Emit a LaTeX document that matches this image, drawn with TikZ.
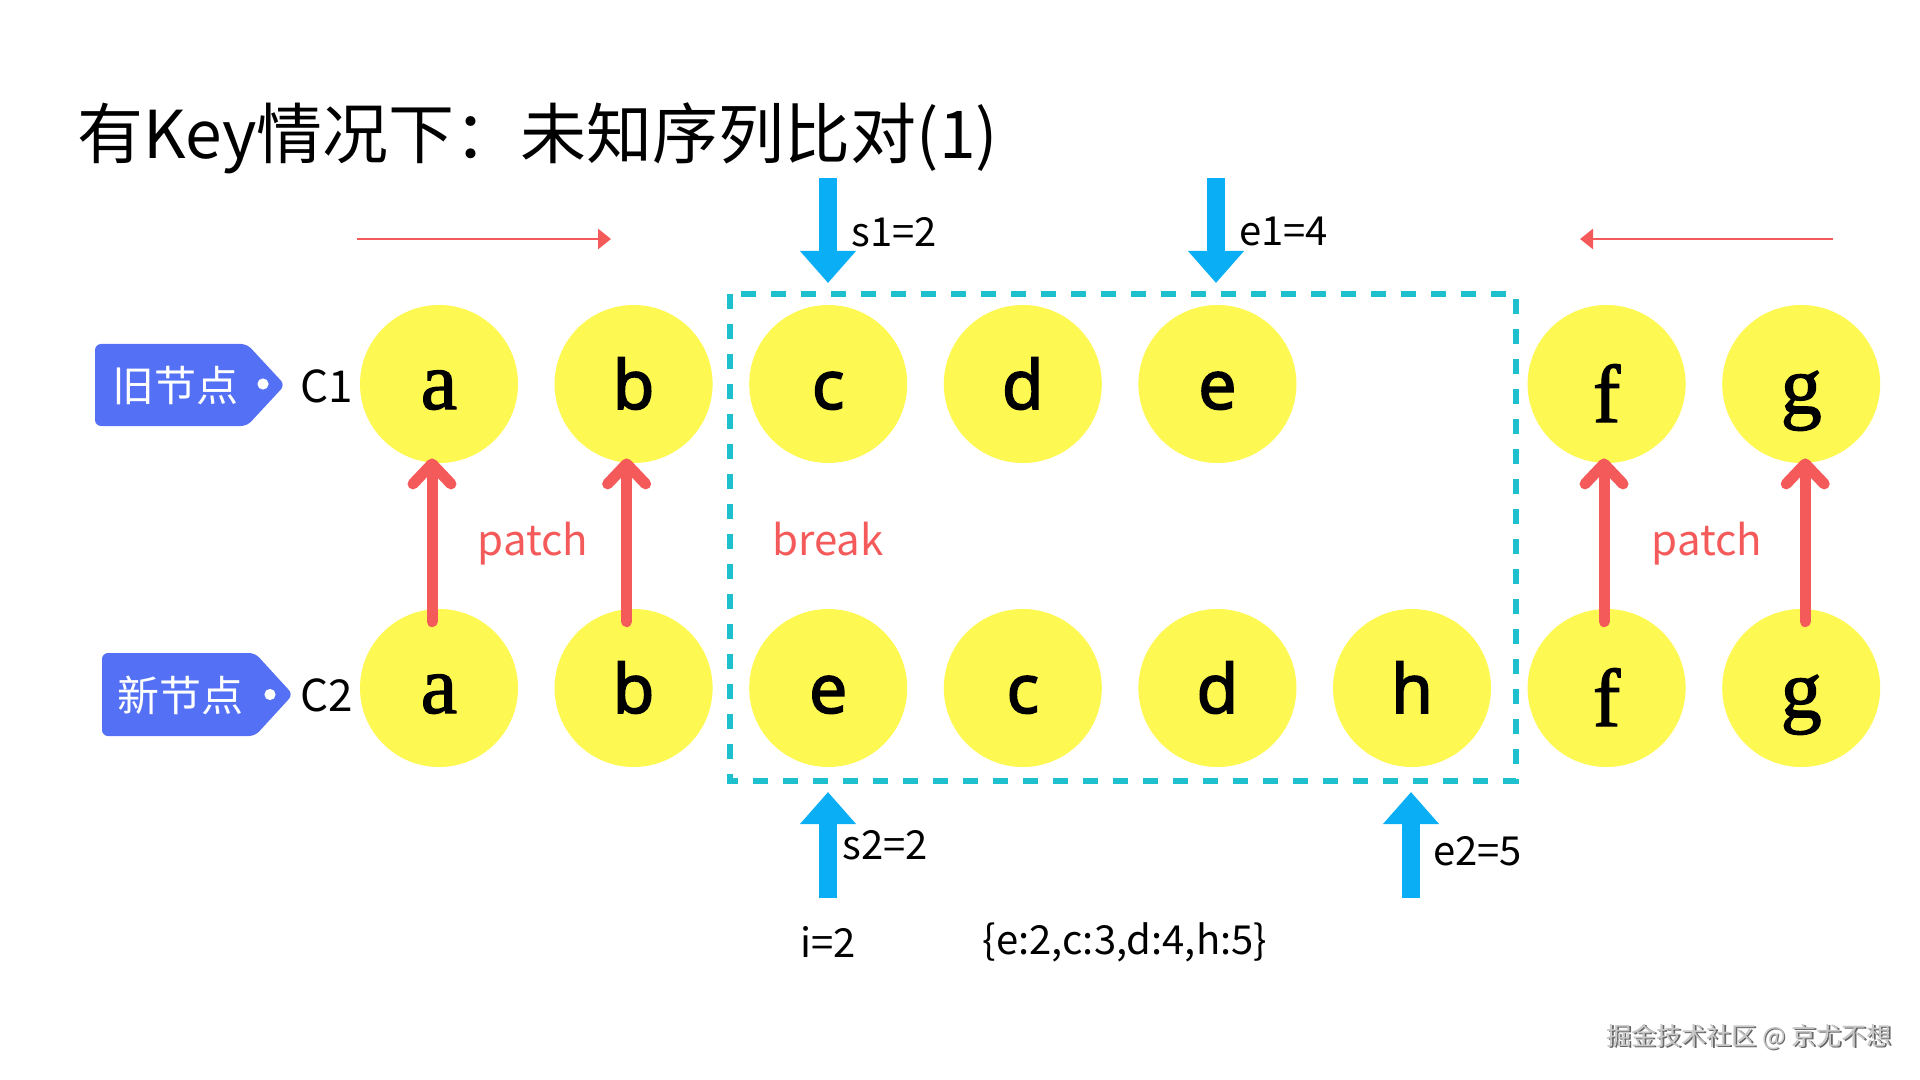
\documentclass[tikz,border=0pt]{standalone}
\usepackage{fontspec}
\setmainfont{Noto Sans CJK SC}
\newfontfamily\lettersans[FakeBold=2.2]{Noto Sans}
\newfontfamily\letterserif[FakeBold=1.6]{Liberation Serif}
\usetikzlibrary{arrows.meta}
\definecolor{cyel}{HTML}{FEF853}
\definecolor{cblue}{HTML}{0AAEF5}
\definecolor{cred}{HTML}{F55A5A}
\definecolor{ctag}{HTML}{5470F5}
\definecolor{cdash}{HTML}{1FC0CD}
\begin{document}
\begin{tikzpicture}[x=0.5pt,y=-0.5pt,
  circ/.style={circle,fill=cyel,minimum size=79pt,inner sep=0pt,text height=25pt,text depth=0pt},
  lsans/.style={font=\lettersans\fontsize{34}{34}\selectfont},
  lserif/.style={font=\letterserif\fontsize{41}{41}\selectfont},
  tagshape/.style={fill=ctag,rounded corners=3pt},
  tagtext/.style={text=white,font=\fontsize{21}{21}\selectfont,inner sep=0pt},
  ctext/.style={font=\fontsize{22}{22}\selectfont,inner sep=0pt},
  lbl/.style={font=\fontsize{20}{20}\selectfont,inner sep=0pt},
  redlbl/.style={font=\fontsize{21}{21}\selectfont,text=cred,inner sep=0pt,anchor=base},
  bluearrow/.style={draw=cblue,line width=9pt,-{Triangle[length=16pt,width=27pt]}},
  thinred/.style={draw=cred,line width=1.4pt,-{Triangle[length=6.5pt,width=10pt]}},
  patcharrow/.style={draw=cred,line width=5.5pt,line cap=round,-{Straight Barb[length=10pt,width=19pt,line cap=round,line join=round]}},
  dashbox/.style={draw=cdash,line width=2.6pt,dash pattern=on 7.5pt off 7.5pt}
]
\useasboundingbox (0,0) rectangle (1920,1080);

% title
\node[anchor=west,inner sep=0pt,font=\fontsize{33}{33}\selectfont] (title) at (77,138) {有Key情况下：未知序列比对(1)};

% tags
\fill[tagshape] (95,344) -- (247,344) -- (285,385) -- (247,426) -- (95,426) -- cycle;
\fill[white] (263,384) circle (2.8pt);
\node[tagtext] (tag1) at (175,386) {旧节点};
\node[ctext] (c1) at (327,386) {C1};

\fill[tagshape] (102,653) -- (255,653) -- (293,694.5) -- (255,736) -- (102,736) -- cycle;
\fill[white] (270,694.5) circle (2.8pt);
\node[tagtext] (tag2) at (180,695) {新节点};
\node[ctext] (c2) at (327,695) {C2};

% dashed box
\draw[dashbox] (730,294) rectangle (1516,781);

% row 1
\node[circ,lserif] (n1a) at (439,384) {a};
\node[circ,lsans]  (n1b) at (633.6,384) {b};
\node[circ,lsans]  (n1c) at (828.2,384) {c};
\node[circ,lsans]  (n1d) at (1022.8,384) {d};
\node[circ,lsans]  (n1e) at (1217.4,384) {e};
\node[circ,lserif,text height=38pt] (n1f) at (1606.6,384) {f};
\node[circ,lserif,text height=29pt] (n1g) at (1801.2,384) {g};

% row 2
\node[circ,lserif] (n2a) at (439,688) {a};
\node[circ,lsans]  (n2b) at (633.6,688) {b};
\node[circ,lsans]  (n2e) at (828.2,688) {e};
\node[circ,lsans]  (n2c) at (1022.8,688) {c};
\node[circ,lsans]  (n2d) at (1217.4,688) {d};
\node[circ,lsans]  (n2h) at (1412,688) {h};
\node[circ,lserif,text height=38pt] (n2f) at (1606.6,688) {f};
\node[circ,lserif,text height=29pt] (n2g) at (1801.2,688) {g};

% patch arrows
\draw[patcharrow] ([xshift=-3.5pt,yshift=-6.5pt]n2a.north) -- ([xshift=-3.5pt,yshift=2.5pt]n1a.south);
\draw[patcharrow] ([xshift=-3.5pt,yshift=-6.5pt]n2b.north) -- ([xshift=-3.5pt,yshift=2.5pt]n1b.south);
\draw[patcharrow] ([xshift=-1.3pt,yshift=-6.5pt]n2f.north) -- ([xshift=-1.3pt,yshift=2.5pt]n1f.south);
\draw[patcharrow] ([xshift=2pt,yshift=-6.5pt]n2g.north) -- ([xshift=2pt,yshift=2.5pt]n1g.south);

\node[redlbl] (patchL) at (533,555) {patch};
\node[redlbl] (patchR) at (1707,555) {patch};
\node[redlbl] (brk) at (828,555) {break};

% thin red direction arrows
\coordinate (rl1) at (357,239); \coordinate (rl2) at (611,239);
\coordinate (rr1) at (1833,239); \coordinate (rr2) at (1580,239);
\draw[thinred] (rl1) -- (rl2);
\draw[thinred] (rr1) -- (rr2);

% blue pointer arrows
\coordinate (s1top) at (828,178); \coordinate (s1tip) at (828,283);
\coordinate (e1top) at (1216,178); \coordinate (e1tip) at (1216,283);
\coordinate (s2bot) at (828,898); \coordinate (s2tip) at (828,792);
\coordinate (e2bot) at (1411,898); \coordinate (e2tip) at (1411,792);
\draw[bluearrow] (s1top) -- (s1tip);
\draw[bluearrow] (e1top) -- (e1tip);
\draw[bluearrow] (s2bot) -- (s2tip);
\draw[bluearrow] (e2bot) -- (e2tip);

\node[lbl,anchor=west] (s1l) at (851,232) {s1=2};
\node[lbl,anchor=west] (e1l) at (1239,232) {e1=4};
\node[lbl,anchor=west] (s2l) at (842,845) {s2=2};
\node[lbl,anchor=west] (e2l) at (1433,851) {e2=5};
\node[lbl] (il) at (828,942) {i=2};
\node[lbl] (mapl) at (1125,942) {\{e:2,c:3,d:4,h:5\}};

% watermark
\node[anchor=east,inner sep=0pt,font=\fontsize{12.5}{12.5}\selectfont,text=black!60] (wm0) at (1893.5,1038.5) {掘金技术社区 @ 京尤不想};
\node[anchor=east,inner sep=0pt,font=\fontsize{12.5}{12.5}\selectfont,text=black!22] (wm) at (1892,1037) {掘金技术社区 @ 京尤不想};
\end{tikzpicture}
\end{document}
